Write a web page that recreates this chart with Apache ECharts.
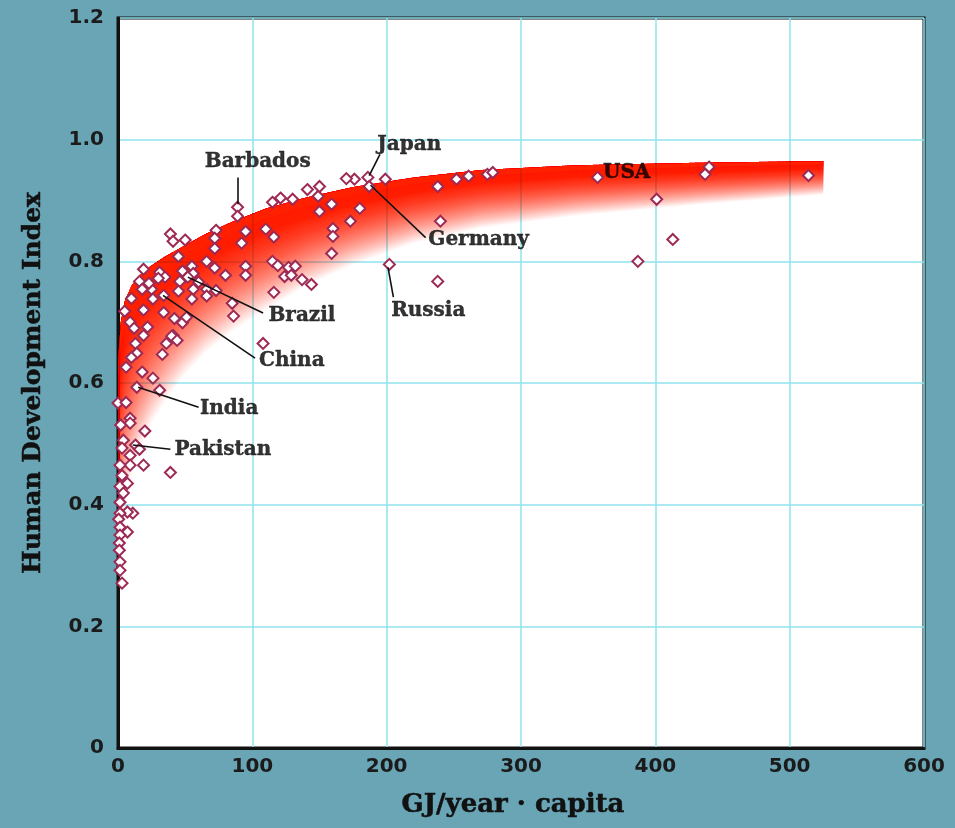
<!DOCTYPE html>
<html>
<head>
<meta charset="utf-8">
<title>Human Development Index vs energy use</title>
<script src="https://cdn.jsdelivr.net/npm/echarts@6/dist/echarts.min.js"></script>
<style>
  html, body { margin: 0; padding: 0; background: #69a5b5; }
  #main { width: 955px; height: 828px; }
</style>
</head>
<body>
<div id="main"></div>
<script>
// energy use (GJ/year per capita) vs HDI, one pair per country
var hdiPoints = [
  [357, 0.938], [401, 0.902], [413, 0.836], [387, 0.800], [440, 0.955], [437, 0.943], [514, 0.941],
  [238, 0.923], [240, 0.866], [238, 0.767], [252, 0.935], [261, 0.940], [275, 0.943], [279, 0.946],
  [202, 0.795], [199, 0.935], [186, 0.938], [187, 0.923], [176, 0.935], [170, 0.936], [180, 0.887],
  [173, 0.866], [159, 0.894], [150, 0.882], [149, 0.907], [150, 0.923], [141, 0.918], [130, 0.902],
  [121, 0.904], [115, 0.897], [160, 0.854], [160, 0.841], [159, 0.813], [110, 0.853], [116, 0.840],
  [115, 0.800], [119, 0.793], [127, 0.790], [132, 0.792], [124, 0.775], [129, 0.777], [137, 0.770],
  [144, 0.762], [116, 0.749], [108, 0.665],
  [89, 0.889], [89, 0.874], [73, 0.851], [72, 0.838], [72, 0.821], [95, 0.849], [92, 0.830],
  [95, 0.792], [95, 0.777], [39, 0.845], [41, 0.833], [50, 0.835], [45, 0.808], [66, 0.800],
  [72, 0.789], [80, 0.777], [85, 0.731], [86, 0.710],
  [19, 0.787], [16, 0.767], [31, 0.782], [35, 0.774], [30, 0.772], [48, 0.784], [55, 0.792],
  [56, 0.780], [46, 0.767], [52, 0.774], [60, 0.766], [66, 0.754], [56, 0.754], [55, 0.738],
  [66, 0.743], [73, 0.752], [45, 0.751], [34, 0.744], [25, 0.754], [26, 0.738], [18, 0.754],
  [23, 0.764], [10, 0.739], [19, 0.720], [5, 0.718], [34, 0.716], [9, 0.700], [12, 0.690],
  [22, 0.692], [42, 0.706], [48, 0.699], [51, 0.708], [41, 0.678], [13, 0.665], [19, 0.678],
  [14, 0.649], [10, 0.642], [40, 0.677], [44, 0.670], [36, 0.665], [33, 0.647], [6, 0.626],
  [18, 0.618], [26, 0.608], [14, 0.593], [31, 0.588],
  [0, 0.567], [6, 0.568], [9, 0.542], [9, 0.534], [2, 0.531], [20, 0.521], [4, 0.506],
  [13, 0.498], [3, 0.493], [16, 0.491], [9, 0.481], [9, 0.465], [19, 0.465], [39, 0.453],
  [1.5, 0.465], [3, 0.448], [1.5, 0.430], [7, 0.435], [4, 0.419], [1.5, 0.404], [11, 0.386],
  [7, 0.388], [1.5, 0.386], [0.5, 0.376], [1.5, 0.363], [7, 0.355], [1.5, 0.350], [1, 0.337],
  [1, 0.325], [1.5, 0.306], [1.5, 0.292], [3, 0.271]
];

// red trend band: upper (solid red) edge and lower (faded) edge
var bandX      = [0,    2,    5,     10,   16,    24,    35,    48,    65,    85,    110,   140,  175,  220,   270,  340,   430,   525];
var bandTop    = [0.64, 0.70, 0.735, 0.76, 0.777, 0.792, 0.808, 0.824, 0.845, 0.865, 0.887, 0.905, 0.922, 0.938, 0.950, 0.958, 0.962, 0.965];
var bandBottom = [0.26, 0.34, 0.40,  0.45, 0.49,  0.53,  0.57,  0.61,  0.65,  0.685, 0.72,  0.76, 0.795, 0.83, 0.855, 0.875, 0.893, 0.91];

// country annotations
var labelNames = ['Barbados', 'Japan', 'Germany', 'Russia', 'Brazil', 'China', 'India', 'Pakistan', 'USA'];
var labelAt    = [[104, 0.963], [193, 0.991], [231, 0.835], [231, 0.718], [112, 0.710], [105, 0.636], [61, 0.557], [42, 0.490], [361, 0.946]];
var labelAlign = ['center', 'left', 'left', 'center', 'left', 'left', 'left', 'left', 'left'];
var leaderFrom = [[89, 0.894], [187, 0.941], [188, 0.925], [201, 0.790], [52, 0.774], [33.5, 0.744], [15, 0.593], [11, 0.498]];
var leaderTo   = [[89, 0.938], [195, 0.976], [229, 0.839], [205, 0.741], [108, 0.715], [102, 0.641], [60, 0.560], [39, 0.491]];

var xTicks = { min: 0, max: 600, interval: 100 };
var yTicks = { min: 0, max: 1.2, interval: 0.2 };

var chart = echarts.init(document.getElementById('main'));

// band fades out by stacking translucent layers, each reaching less far down
var LAYERS = 130;
var LAYER_ALPHA = 0.033;
var FADE_POWER = 1.9;

function bandPoint(i, t) {
  return [bandX[i], bandTop[i] + (bandBottom[i] - bandTop[i]) * t];
}

var labelData = labelNames.map(function (n, i) {
  return {
    value: labelAt[i],
    name: n,
    label: { align: labelAlign[i] }
  };
});

var leaderData = leaderFrom.map(function (p, i) {
  return [{ coord: p }, { coord: leaderTo[i] }];
});

var option = {
  backgroundColor: '#69a5b5',
  animation: false,
  grid: {
    left: 118, right: 31, top: 18, bottom: 80,
    show: true,
    backgroundColor: '#ffffff',
    borderColor: '#111111',
    borderWidth: 3
  },
  xAxis: {
    type: 'value',
    min: xTicks.min, max: xTicks.max, interval: xTicks.interval,
    name: 'GJ/year \u00b7 capita',
    nameLocation: 'middle',
    nameGap: 44,
    nameTextStyle: {
      fontFamily: 'DejaVu Serif', fontWeight: 'bold', fontSize: 26, color: '#111',
      textBorderColor: '#111', textBorderWidth: 0.5, padding: [0, 16, 0, 0]
    },
    axisLine: { show: true, lineStyle: { color: '#111', width: 3 } },
    axisTick: { show: false },
    axisLabel: { margin: 9, fontFamily: 'DejaVu Sans', fontWeight: 'bold', fontSize: 20, color: '#1b1b1b' },
    splitLine: { show: true, lineStyle: { color: '#8fe2ef', width: 1.5 } }
  },
  yAxis: {
    type: 'value',
    min: yTicks.min, max: yTicks.max, interval: yTicks.interval,
    name: 'Human Development Index',
    nameLocation: 'middle',
    nameGap: 72,
    nameTextStyle: {
      fontFamily: 'DejaVu Serif', fontWeight: 'bold', fontSize: 25, color: '#111',
      textBorderColor: '#111', textBorderWidth: 0.5
    },
    axisLine: { show: true, lineStyle: { color: '#111', width: 3 } },
    axisTick: { show: false },
    axisLabel: {
      margin: 14, fontFamily: 'DejaVu Sans', fontWeight: 'bold', fontSize: 20, color: '#1b1b1b',
      formatter: function (v) { return v === 0 ? '0' : v.toFixed(1); }
    },
    splitLine: { show: true, lineStyle: { color: '#8fe2ef', width: 1.5 } }
  },
  series: [
    {
      type: 'custom',
      name: 'band',
      silent: true,
      clip: true,
      data: [[0, 0]],
      renderItem: function (params, api) {
        var children = [];
        for (var k = 0; k < LAYERS; k++) {
          var tEnd = Math.pow(1 - LAYER_ALPHA, k / FADE_POWER);
          var pts = [];
          var i;
          for (i = 0; i < bandX.length; i++) pts.push(api.coord(bandPoint(i, 0)));
          for (i = bandX.length - 1; i >= 0; i--) pts.push(api.coord(bandPoint(i, tEnd)));
          children.push({
            type: 'polygon',
            shape: { points: pts },
            style: { fill: 'rgba(244,30,2,' + LAYER_ALPHA + ')', stroke: null }
          });
        }
        return { type: 'group', children: children };
      }
    },
    {
      type: 'scatter',
      name: 'countries',
      symbol: 'diamond',
      symbolSize: 11,
      itemStyle: { color: '#ffffff', borderColor: '#9c2a55', borderWidth: 2, opacity: 1 },
      data: hdiPoints,
      markLine: {
        silent: true,
        symbol: ['none', 'none'],
        label: { show: false },
        lineStyle: { color: '#111', width: 1.6, type: 'solid' },
        data: leaderData
      }
    },
    {
      type: 'scatter',
      name: 'labels',
      silent: true,
      symbolSize: 0,
      data: labelData,
      label: {
        show: true,
        position: [0, 0],
        verticalAlign: 'middle',
        formatter: '{b}',
        fontFamily: 'DejaVu Serif',
        fontWeight: 'bold',
        fontSize: 20,
        color: '#000',
        textBorderColor: '#000',
        textBorderWidth: 0.4
      }
    }
  ]
};

chart.setOption(option);
</script>
</body>
</html>
